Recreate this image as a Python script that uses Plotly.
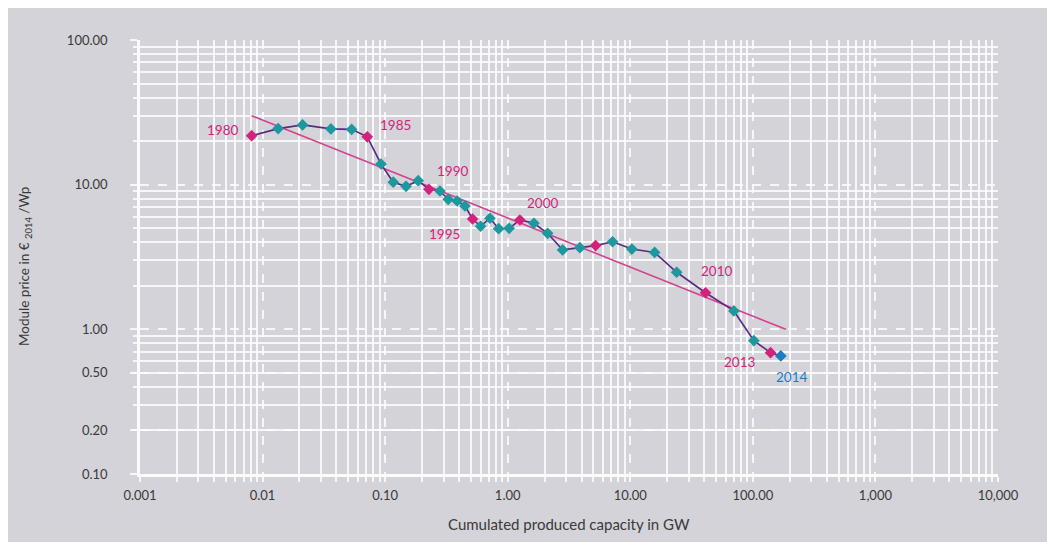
import math
import plotly.graph_objects as go

# ---------------- data ----------------
years = list(range(1980, 2015))
capacity_gw = [0.00815, 0.0134, 0.0212, 0.0361, 0.0533, 0.0715, 0.0925, 0.1165, 0.148, 0.186,
               0.2275, 0.280, 0.327, 0.387, 0.448, 0.517, 0.601, 0.716, 0.843, 1.028,
               1.257, 1.636, 2.116, 2.804, 3.88, 5.21, 7.17, 10.3, 15.8, 23.9,
               41.1, 70.0, 101.9, 139.4, 169.1]
price_eur_wp = [21.8, 24.4, 25.9, 24.3, 24.1, 21.4, 13.9, 10.4, 9.74, 10.65,
                9.29, 9.04, 7.92, 7.71, 7.12, 5.79, 5.16, 5.86, 4.96, 4.99,
                5.70, 5.41, 4.61, 3.54, 3.67, 3.79, 4.03, 3.59, 3.40, 2.48,
                1.79, 1.34, 0.835, 0.690, 0.655]
highlight_years = [1980, 1985, 1990, 1995, 2000, 2005, 2010, 2013]
last_year = 2014
labelled_years = [1980, 1985, 1990, 1995, 2000, 2010, 2013, 2014]

trend_x = [0.00815, 186.0]
trend_y = [30.0, 1.0]

x_tickvals = [0.001, 0.01, 0.1, 1, 10, 100, 1000, 10000]
x_ticktext = ["0.001", "0.01", "0.10", "1.00", "10.00", "100.00", "1,000", "10,000"]
y_tickvals = [0.1, 0.2, 0.5, 1, 10, 100]
y_ticktext = ["0.10", "0.20", "0.50", "1.00", "10.00", "100.00"]

# ---------------- styles ----------------
BG = "#d4d3d9"
GRID = "rgba(255,255,255,0.8)"
TXT = "#3a3a3a"
TEAL = "#1c989e"
MAGENTA = "#d2237c"
BLUE = "#1b7dbf"
PURPLE = "#5b2b83"
TREND = "#d5438f"
FONT = "Lato"

def minor_vals(lo_exp, hi_exp):
    out = []
    for e in range(lo_exp, hi_exp):
        for m in range(2, 10):
            out.append(round(m * 10 ** e, 6))
    return out

marker_colors = [BLUE if y == last_year else (MAGENTA if y in highlight_years else TEAL) for y in years]

fig = go.Figure()

fig.add_trace(go.Scatter(
    x=trend_x, y=trend_y, mode="lines",
    line=dict(color=TREND, width=1.6), hoverinfo="skip", showlegend=False))

fig.add_trace(go.Scatter(
    x=capacity_gw, y=price_eur_wp, mode="lines+markers",
    line=dict(color=PURPLE, width=1.6),
    marker=dict(symbol="diamond", size=9, color=marker_colors, line=dict(width=0)),
    showlegend=False))

# year labels (annotation positions on log axes are given in log10 units)
label_offsets = {1980: (-29, 6), 1985: (28, 12), 1990: (24, 18), 1995: (-28, -15),
                 2000: (23, 17), 2010: (11, 22), 2013: (-31, -9), 2014: (11, -21)}
for yr in labelled_years:
    i = years.index(yr)
    dx, dy = label_offsets[yr]
    fig.add_annotation(x=math.log10(capacity_gw[i]), y=math.log10(price_eur_wp[i]), xref="x", yref="y",
                       text=str(yr), showarrow=False, xshift=dx, yshift=dy,
                       font=dict(family=FONT, size=13.5, color=BLUE if yr == last_year else MAGENTA))

# axis titles
fig.add_annotation(xref="paper", yref="paper", x=0.5, y=-0.115, xanchor="center", yanchor="middle",
                   text="Cumulated produced capacity in GW", showarrow=False,
                   font=dict(family=FONT, size=15, color=TXT))
fig.add_annotation(xref="paper", yref="paper", x=-0.134, y=0.477, xanchor="center", yanchor="middle",
                   text="Module price in € <sub>2014</sub> /Wp", showarrow=False, textangle=-90,
                   font=dict(family=FONT, size=13.5, color=TXT))

fig.update_xaxes(
    type="log", range=[-3, 4], tickmode="array", tickvals=x_tickvals, ticktext=x_ticktext,
    showgrid=True, gridcolor=GRID, gridwidth=1.5, griddash="dash",
    ticks="outside", ticklen=5, tickcolor=GRID, tickwidth=1.5,
    showline=True, linecolor="rgba(255,255,255,0.9)", linewidth=2.5,
    tickfont=dict(family=FONT, size=13, color=TXT), ticklabelstandoff=3,
    zeroline=False,
    minor=dict(tickmode="array", tickvals=minor_vals(-3, 4), showgrid=True, gridcolor=GRID,
               gridwidth=1.5, griddash="solid", ticks="outside", ticklen=5, tickcolor=GRID, tickwidth=1.5))

fig.update_yaxes(
    type="log", range=[-1, 2], tickmode="array", tickvals=y_tickvals, ticktext=y_ticktext,
    showgrid=True, gridcolor=GRID, gridwidth=1.5, griddash="dash",
    ticks="outside", ticklen=7, tickcolor=GRID, tickwidth=1.5,
    showline=True, linecolor="rgba(255,255,255,0.9)", linewidth=2.5,
    tickfont=dict(family=FONT, size=13, color=TXT), ticklabelstandoff=20,
    zeroline=False,
    minor=dict(tickmode="array", tickvals=minor_vals(-1, 2), showgrid=True, gridcolor=GRID,
               gridwidth=1.5, griddash="solid", ticks="outside", ticklen=4, tickcolor=GRID, tickwidth=1.5))

fig.update_layout(
    width=1047, height=534,
    margin=dict(l=132, r=57, t=32, b=68, autoexpand=False),
    paper_bgcolor=BG, plot_bgcolor=BG,
    font=dict(family=FONT, color=TXT),
    showlegend=False,
)

fig.write_html("out.html")
